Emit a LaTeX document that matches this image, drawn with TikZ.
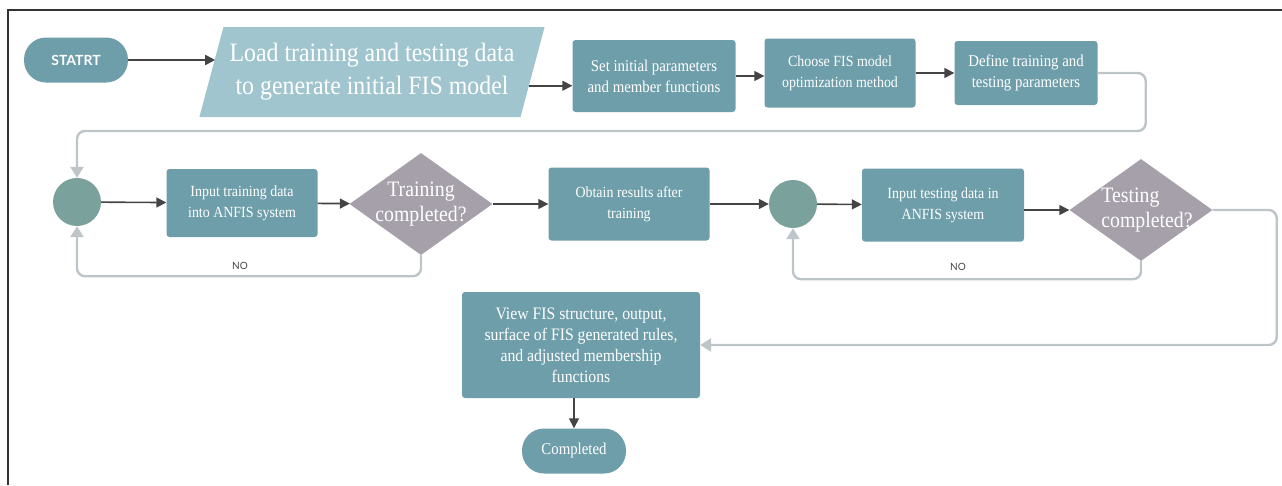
\documentclass[tikz,border=0pt]{standalone}
\usepackage{fontspec}
\setmainfont[FakeStretch=0.9]{Liberation Serif}
\newfontfamily\labfont{Lato}
\usepackage{tikz}
\usetikzlibrary{shapes.geometric,arrows.meta}
\definecolor{boxc}{HTML}{6E9EAA}
\definecolor{paral}{HTML}{A0C5CF}
\definecolor{juncc}{HTML}{7BA19C}
\definecolor{deci}{HTML}{A5A0AA}
\definecolor{route}{HTML}{BEC5C8}
\definecolor{ink}{HTML}{444444}
\tikzset{
  box/.style={fill=boxc, rounded corners=3pt, text=white, align=center, inner sep=0pt, font=\fontsize{16.5}{21}\selectfont},
  term/.style={box, rounded corners=22pt, minimum width=104pt, minimum height=45pt},
  dec/.style={diamond, fill=deci, minimum width=143pt, minimum height=102pt, inner sep=0pt},
  dectxt/.style={text=white, align=center, font=\fontsize{22}{25}\selectfont},
  junc/.style={circle, fill=juncc, minimum size=48pt, inner sep=0pt},
  flow/.style={draw=ink, line width=1.6pt, -{Triangle[length=10pt,width=10pt]}},
  back/.style={draw=route, line width=2.4pt, rounded corners=8pt, -{Triangle[length=11pt,width=13pt]}},
  note/.style={text=ink, font=\labfont\fontsize{10}{10}\selectfont},
  frame/.style={draw=black!80, line width=1.4pt},
}
\begin{document}
\begin{tikzpicture}[x=1pt,y=-1pt]
\useasboundingbox (0,0) rectangle (1282,485);
\draw[frame] (8,485) -- (8,10) -- (1282,10);
% first row
\node[term, font=\labfont\bfseries\fontsize{14}{14}\selectfont] (start) at (76,60) {STATRT};
\node[trapezium, trapezium left angle=68, trapezium right angle=112, trapezium stretches=true,
  minimum width=347pt, minimum height=90pt, fill=paral, text=white, align=center, inner sep=0pt,
  font=\fontsize{26.5}{33}\selectfont] (load) at (372,72) {Load training and testing data\\to generate initial FIS model};
\node[box, minimum width=163pt, minimum height=72pt] (set) at (654,76) {Set initial parameters\\and member functions};
\node[box, minimum width=151pt, minimum height=69pt, font=\fontsize{15.5}{21}\selectfont] (choose) at (840,73) {Choose FIS model\\optimization method};
\node[box, minimum width=143pt, minimum height=64pt] (def) at (1026,73) {Define training and\\testing parameters};
% second row
\node[junc] (c1) at (77,202) {};
\node[box, minimum width=151pt, minimum height=68pt, font=\fontsize{15.5}{21}\selectfont] (intr) at (242,203) {Input training data\\into ANFIS system};
\node[dec, label={[dectxt]center:Training\\completed?}] (dia1) at (421,204) {};
\node[box, minimum width=161pt, minimum height=73pt, font=\fontsize{15.5}{21}\selectfont] (obt) at (629,204) {Obtain results after\\training};
\node[junc] (c2) at (793,204) {};
\node[box, minimum width=162pt, minimum height=73pt, font=\fontsize{15.5}{21}\selectfont] (inte) at (943,205) {Input testing data in\\ANFIS system};
\node[dec, label={[dectxt, align=left, xshift=6pt]center:Testing\\completed?}] (dia2) at (1141,210) {};
% last part
\node[box, minimum width=238pt, minimum height=106pt, font=\fontsize{17.5}{21}\selectfont] (view) at (581,345) {View FIS structure, output,\\surface of FIS generated rules,\\and adjusted membership\\functions};
\node[term, font=\fontsize{16.5}{16}\selectfont] (done) at (574,451) {Completed};
% connectors
\draw[flow, shorten >=-4pt] (start.east) -- (start.east -| load.west);
\draw[flow] (load.-5) -- (load.-5 -| set.west);
\draw[flow] (set.east) -- (set.east -| choose.west);
\draw[flow] (choose.east) -- (choose.east -| def.west);
\draw[back] (def.east) -- ++(48,0) -- ++(0,58) -| (c1.north);
\draw[flow] (c1) -- (intr);
\draw[flow] (intr) -- (dia1);
\draw[flow] (dia1) -- (obt);
\draw[flow] (obt) -- (c2);
\draw[flow] (c2) -- (inte);
\draw[flow] (inte.east |- dia2) -- (dia2.west);
\draw[back] (dia1.south) -- ++(0,21) -| (c1.south);
\node[note] (no1) at (240,266) {NO};
\draw[back] (dia2.south) -- ++(0,18) -| (c2.south);
\node[note] (no2) at (958,267) {NO};
\draw[back] (dia2.east) -- ++(64,0) |- (view.east);
\draw[flow] (view.south -| done.north) -- (done.north);
\end{tikzpicture}
\end{document}
